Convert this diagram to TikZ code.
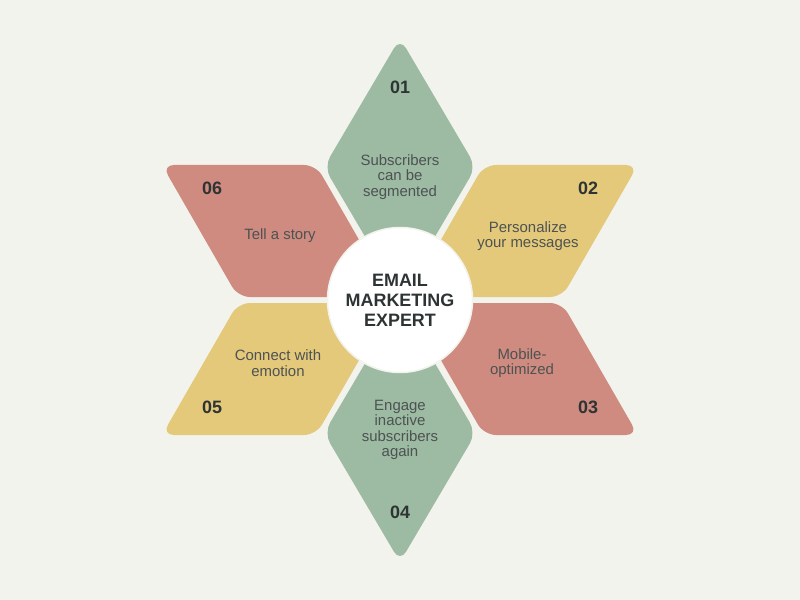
\documentclass[tikz,border=0pt]{standalone}
\usepackage{fontspec}
\setmainfont{Liberation Sans}
\usetikzlibrary{positioning}
\definecolor{bgcol}{HTML}{F2F3EC}
\definecolor{sage}{HTML}{9DBAA3}
\definecolor{mustard}{HTML}{E4C97B}
\definecolor{clay}{HTML}{CF8B7F}
\definecolor{ink}{HTML}{2E3333}
\begin{document}
\begin{tikzpicture}[x=1bp, y=-1bp,
  petal/.style={rounded corners=12bp},
  num/.style={font=\fontsize{18}{20}\selectfont\bfseries, text=ink},
  txt/.style={font=\fontsize{15}{15.5}\selectfont, text=ink!85, align=center},
  hub/.style={circle, fill=white, draw=bgcol, line width=1.5bp, inner sep=0pt,
    minimum size=145bp, align=center, text=ink,
    font=\fontsize{18}{20}\selectfont\bfseries}]
\fill[bgcol] (0,0) rectangle (800,600);
\useasboundingbox (0,0) rectangle (800,600);
% petals
\fill[sage, petal] (400,38) -- (476,167) -- (400,296) -- (324,167) -- cycle;
\fill[mustard, petal] (484,165) -- (638,165) -- (562,297) -- (408,297) -- cycle;
\fill[clay, petal] (408,303) -- (562,303) -- (638,435) -- (484,435) -- cycle;
\fill[sage, petal] (400,304) -- (476,433) -- (400,562) -- (324,433) -- cycle;
\fill[mustard, petal] (238,303) -- (392,303) -- (316,435) -- (162,435) -- cycle;
\fill[clay, petal] (162,165) -- (316,165) -- (392,297) -- (238,297) -- cycle;
% hub
\node[hub] (hub) at (400,300) {EMAIL\\MARKETING\\EXPERT};
% numbers
\node[num] (n1) at (400,87) {01};
\node[num] (n2) at (588,188) {02};
\node[num] (n3) at (588,407) {03};
\node[num] (n4) at (400,512) {04};
\node[num] (n5) at (212,407) {05};
\node[num] (n6) at (212,188) {06};
% labels
\node[txt] (t1) at (400,177) {Subscribers\\can be\\segmented};
\node[txt] (t2) at (528,236) {Personalize\\your messages};
\node[txt] (t3) at (522,363) {Mobile-\\optimized};
\node[txt] (t4) at (400,430) {Engage\\inactive\\subscribers\\again};
\node[txt] (t5) at (278,363) {Connect with\\emotion};
\node[txt] (t6) at (280,236) {Tell a story};
\end{tikzpicture}
\end{document}
